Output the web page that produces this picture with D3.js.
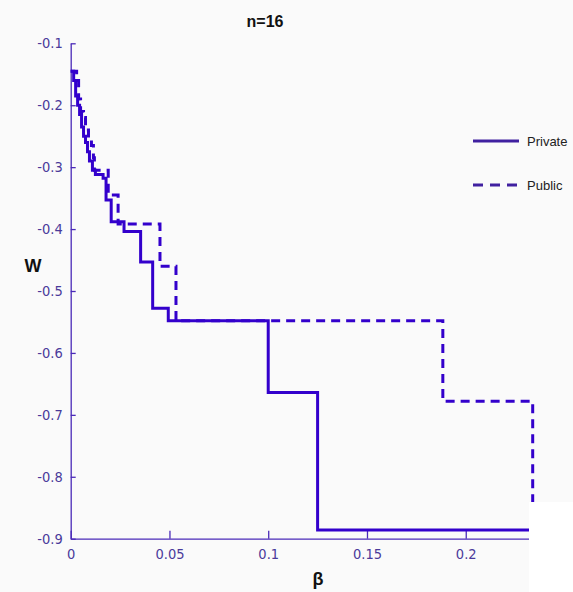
<!DOCTYPE html>
<html><head><meta charset="utf-8">
<script src="https://cdn.jsdelivr.net/npm/d3@7"></script>
<style>
html,body{margin:0;padding:0;background:#fafafa;}
svg{display:block;}
</style></head>
<body>
<svg id="chart" width="573" height="592"></svg>
<script>
// ---- data ----
const privateBeta = [0, 0.0015, 0.0025, 0.0035, 0.0045, 0.0055, 0.0065, 0.0075, 0.0085, 0.0095, 0.011, 0.0125, 0.0164, 0.0179, 0.0205, 0.027, 0.0354, 0.0415, 0.0494, 0.1, 0.125, 0.25];
const privateW    = [-0.145, -0.16, -0.185, -0.2, -0.215, -0.235, -0.25, -0.26, -0.275, -0.29, -0.305, -0.312, -0.318, -0.353, -0.388, -0.404, -0.453, -0.528, -0.548, -0.664, -0.886, -0.886];
const publicBeta  = [0, 0.003, 0.004, 0.005, 0.0065, 0.0075, 0.009, 0.0105, 0.0115, 0.012, 0.019, 0.024, 0.0452, 0.0533, 0.1884, 0.2339];
const publicW     = [-0.145, -0.16, -0.19, -0.21, -0.22, -0.24, -0.255, -0.265, -0.285, -0.305, -0.345, -0.392, -0.46, -0.548, -0.678, -0.886];
const xTicks = [0, 0.05, 0.1, 0.15, 0.2];
const yTicks = [-0.9, -0.8, -0.7, -0.6, -0.5, -0.4, -0.3, -0.2, -0.1];
const seriesNames = ["Private", "Public"];
const titleText = "n=16";
const xLabel = "β";
const yLabel = "W";

// ---- drawing ----
const col = "#3300cc";
const axisCol = "#4a2ab8";
const svg = d3.select("#chart");
const x = d3.scaleLinear().domain([0, 0.25]).range([70.7, 564.5]);
const y = d3.scaleLinear().domain([-0.9, -0.1]).range([538.7, 43.3]);

svg.append("rect").attr("width",573).attr("height",592).attr("fill","#fafafa");

const line = d3.line().x(d=>x(d[0])).y(d=>y(d[1])).curve(d3.curveStepAfter);
const priv = privateBeta.map((b,i)=>[b, privateW[i]]);
const pub = publicBeta.map((b,i)=>[b, publicW[i]]);

const tickFont = "'DejaVu Sans Condensed','Liberation Sans Narrow',sans-serif";

// axes
const xAxis = d3.axisBottom(x).tickValues(xTicks).tickSizeInner(-8).tickSizeOuter(0).tickPadding(10)
  .tickFormat(d=>d===0?"0":String(d));
const yAxis = d3.axisLeft(y).tickValues(yTicks).tickSizeInner(-5).tickSizeOuter(0).tickPadding(8)
  .tickFormat(d=>String(d));
const gx = svg.append("g").attr("transform",`translate(0,${y(-0.9)})`).call(xAxis);
const gy = svg.append("g").attr("transform",`translate(${x(0)},0)`).call(yAxis);
[gx,gy].forEach(g=>{
  g.select(".domain").attr("stroke",axisCol).attr("stroke-width",1.3);
  g.selectAll(".tick line").attr("stroke",axisCol).attr("stroke-width",1.3);
  g.selectAll(".tick text").attr("fill","#4a3a9a").attr("font-family",tickFont).attr("font-size",14.5);
});

// lines
svg.append("path").datum(pub).attr("d",line).attr("fill","none").attr("stroke",col)
  .attr("stroke-width",3).attr("stroke-dasharray","9,6");
svg.append("path").datum(priv).attr("d",line).attr("fill","none").attr("stroke",col)
  .attr("stroke-width",3);

// white patch (image crop artifact)
svg.append("rect").attr("x",529).attr("y",502).attr("width",44).attr("height",90).attr("fill","#ffffff");

// titles
svg.append("text").attr("x",265).attr("y",27).attr("text-anchor","middle")
  .attr("font-family","'Liberation Sans',Arial,sans-serif").attr("font-weight","bold").attr("font-size",16)
  .attr("fill","#111").text(titleText);
svg.append("text").attr("x",33).attr("y",272).attr("text-anchor","middle")
  .attr("font-family","'Liberation Sans',Arial,sans-serif").attr("font-weight","bold").attr("font-size",18)
  .attr("fill","#111").text(yLabel);
svg.append("text").attr("x",318).attr("y",585).attr("text-anchor","middle")
  .attr("font-family","'Liberation Sans',Arial,sans-serif").attr("font-weight","bold").attr("font-size",18)
  .attr("fill","#111").text(xLabel);

// legend
const leg = svg.append("g");
seriesNames.forEach((name,i)=>{
  const ly = 141 + i*44;
  leg.append("line").attr("x1",473).attr("x2",519).attr("y1",ly).attr("y2",ly)
    .attr("stroke","#4020a0").attr("stroke-width",3).attr("stroke-dasharray", i===1?"10,7":null);
  leg.append("text").attr("x",527).attr("y",ly+5).attr("font-family","'Liberation Sans',Arial,sans-serif")
    .attr("font-size",13).attr("fill","#222").text(name);
});
</script>
</body></html>
